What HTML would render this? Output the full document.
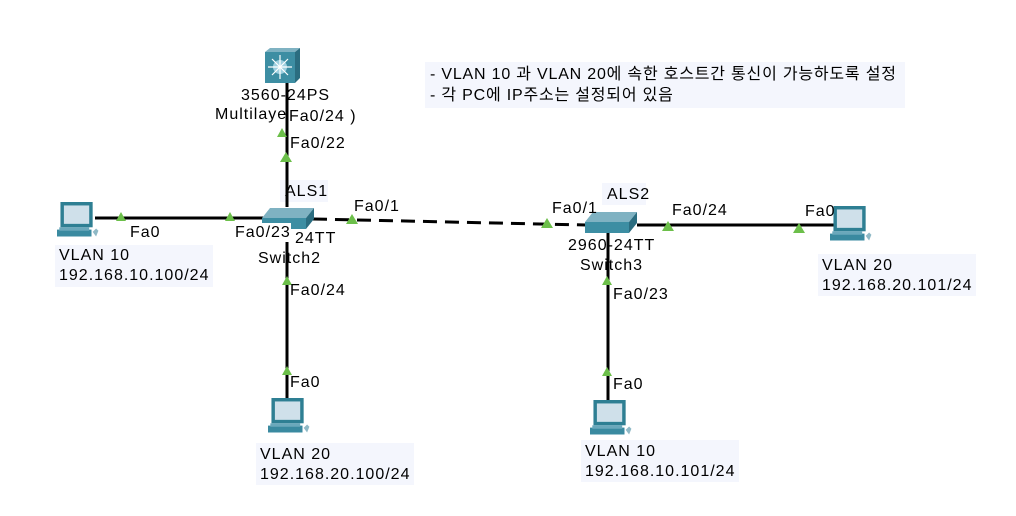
<!DOCTYPE html>
<html><head><meta charset="utf-8"><style>
body{margin:0;width:1016px;height:516px;background:#fff;position:relative;overflow:hidden;font-family:"Liberation Sans","Noto Sans CJK KR",sans-serif;color:#000}
.t{position:absolute;font-size:16px;line-height:19px;white-space:nowrap;letter-spacing:1px}
.b{position:absolute;background:#f4f6fd}
</style></head><body>
<div class="b" style="left:425px;top:62px;width:480px;height:46px"></div>
<div class="t" style="left:430px;top:65px;letter-spacing:0.8px">- VLAN 10 과 VLAN 20에 속한 호스트간 통신이 가능하도록 설정</div>
<div class="t" style="left:430px;top:86px;letter-spacing:0.8px">- 각 PC에 IP주소는 설정되어 있음</div>
<div class="b" style="left:280px;top:180px;width:48px;height:22px"></div>
<div class="b" style="left:602px;top:183px;width:44px;height:22px"></div>
<div class="b" style="left:55px;top:245px;width:158px;height:42px"></div>
<div class="b" style="left:256px;top:443px;width:158px;height:42px"></div>
<div class="b" style="left:581px;top:440px;width:158px;height:42px"></div>
<div class="b" style="left:818px;top:254px;width:158px;height:42px"></div>
<svg width="1016" height="516" style="position:absolute;left:0;top:0">
<defs>
<g id="pc">
<rect x="3" y="0" width="28" height="22" fill="#2e7f93"/>
<rect x="6" y="3" width="22" height="16" fill="#cfe0ea"/>
<rect x="0" y="24" width="30" height="6" fill="#3a8aa0"/>
<rect x="2" y="22" width="26" height="3" fill="#6aa8bb"/>
<path d="M31 26 l3 -3 l2 2 l-2 5z" fill="#8fb9c6"/>
</g>
<g id="sw">
<path d="M8 0 L52 0 L44 10 L0 10Z" fill="#7fb2c2"/>
<rect x="0" y="10" width="44" height="11" fill="#3d8ea3"/>
<path d="M44 10 L52 0 L52 11 L44 21Z" fill="#2b6d80"/>
</g>
</defs>
<g stroke="#000" stroke-width="3">
<line x1="287" y1="82" x2="287" y2="207"/>
<line x1="95" y1="218" x2="268" y2="218"/>
<line x1="287" y1="228" x2="287" y2="402"/>
<line x1="637" y1="225" x2="835" y2="225"/>
<line x1="608" y1="232" x2="608" y2="404"/>
<line x1="313" y1="219" x2="586" y2="225" stroke-dasharray="14,8"/>
</g>
<g fill="#6cbf4a">
<path d="M282 128 l-5 9 h10z"/><path d="M286 152 l-6 10 h12z"/>
<path d="M121 212 l-5 9 h10z"/><path d="M230 212 l-5 9 h10z"/>
<path d="M352 214 l-6 10 h12z"/><path d="M547 218 l-6 10 h12z"/>
<path d="M668 221 l-6 10 h12z"/><path d="M799 223 l-6 10 h12z"/>
<path d="M287 276 l-5 9 h10z"/><path d="M607 276 l-5 9 h10z"/>
<path d="M287 366 l-5 9 h10z"/><path d="M607 367 l-5 9 h10z"/>
</g>
<g transform="translate(265,48)">
<rect x="0" y="4" width="30" height="31" fill="#3d8ea3"/>
<path d="M0 4 L5 0 L35 0 L30 4Z" fill="#7fb2c2"/>
<path d="M30 4 L35 0 L35 30 L30 35Z" fill="#2b6d80"/>
<circle cx="15" cy="19" r="7" fill="#9fd0e0"/>
<g stroke="#fff" stroke-width="1.2"><line x1="15" y1="7" x2="15" y2="31"/><line x1="3" y1="19" x2="27" y2="19"/><line x1="7" y1="11" x2="23" y2="27"/><line x1="23" y1="11" x2="7" y2="27"/></g>
</g>
<use href="#sw" x="262" y="208"/>
<use href="#sw" x="585" y="212"/>
<use href="#pc" transform="translate(57,202) scale(1.15)"/>
<use href="#pc" transform="translate(268,398) scale(1.15)"/>
<use href="#pc" transform="translate(590,400) scale(1.15)"/>
<use href="#pc" transform="translate(830,206) scale(1.15)"/>
</svg>
<div class="t" style="left:241px;top:86px">3560-24PS</div>
<div class="t" style="left:215px;top:105px">Multilaye</div>
<div class="t" style="left:289px;top:107px">Fa0/24 )</div>
<div class="t" style="left:290px;top:134px">Fa0/22</div>
<div class="t" style="left:285px;top:182px">ALS1</div>
<div class="t" style="left:354px;top:197px">Fa0/1</div>
<div class="t" style="left:235px;top:223px;background:#fff">Fa0/23</div>
<div class="t" style="left:295px;top:229px">24TT</div>
<div class="t" style="left:258px;top:249px">Switch2</div>
<div class="t" style="left:130px;top:223px;background:#fff">Fa0</div>
<div class="t" style="left:59px;top:246px">VLAN 10</div>
<div class="t" style="left:59px;top:266px">192.168.10.100/24</div>
<div class="t" style="left:290px;top:281px">Fa0/24</div>
<div class="t" style="left:290px;top:373px">Fa0</div>
<div class="t" style="left:260px;top:445px">VLAN 20</div>
<div class="t" style="left:260px;top:465px">192.168.20.100/24</div>
<div class="t" style="left:607px;top:185px">ALS2</div>
<div class="t" style="left:552px;top:199px">Fa0/1</div>
<div class="t" style="left:672px;top:201px">Fa0/24</div>
<div class="t" style="left:568px;top:236px">2960-24TT</div>
<div class="t" style="left:580px;top:256px">Switch3</div>
<div class="t" style="left:613px;top:285px">Fa0/23</div>
<div class="t" style="left:613px;top:375px">Fa0</div>
<div class="t" style="left:585px;top:442px">VLAN 10</div>
<div class="t" style="left:585px;top:462px">192.168.10.101/24</div>
<div class="t" style="left:805px;top:202px">Fa0</div>
<div class="t" style="left:822px;top:256px">VLAN 20</div>
<div class="t" style="left:822px;top:276px">192.168.20.101/24</div>
</body></html>
